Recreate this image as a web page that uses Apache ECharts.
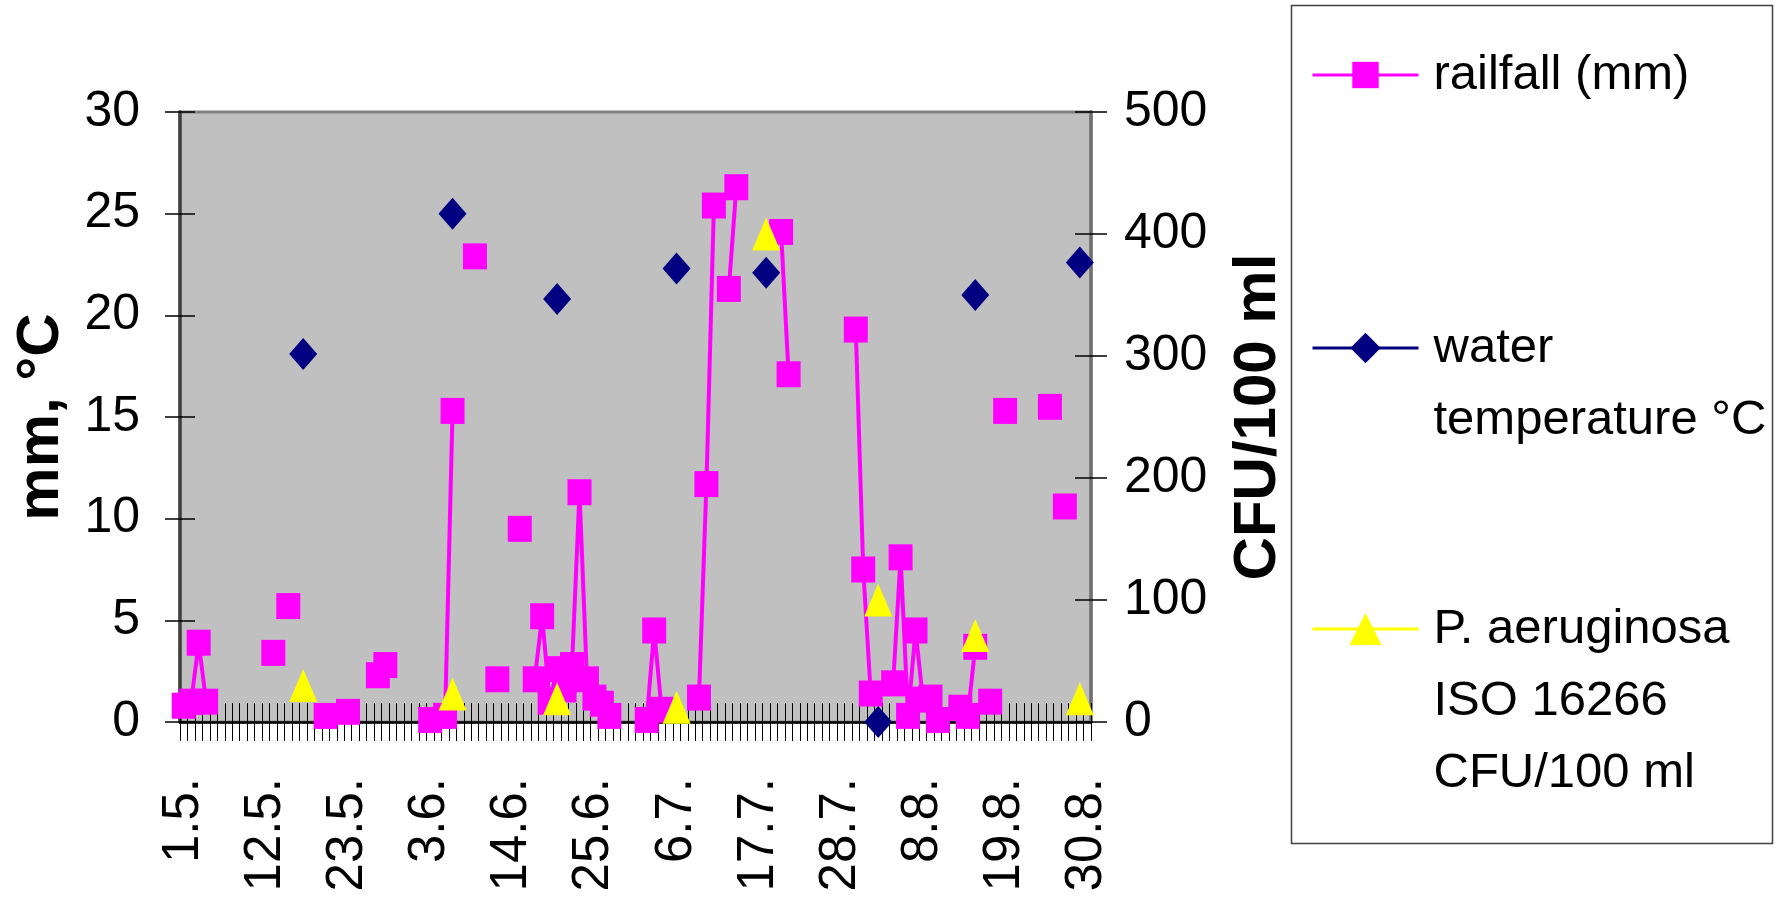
<!DOCTYPE html>
<html><head><meta charset="utf-8">
<script src="https://cdn.jsdelivr.net/npm/echarts@6.0.0/dist/echarts.min.js"></script>
<style>html,body{margin:0;padding:0;background:#fff}#c{width:1776px;height:900px}</style>
</head><body><div id="c"></div>
<script>
// Calendar for the category axis (1.5. ... 30.8.)
const monthLengths = [[5, 31], [6, 30], [7, 31], [8, 30]];
const categories = [];
monthLengths.forEach(([m, n]) => { for (let d = 1; d <= n; d++) categories.push(d + '.' + m + '.'); });

// Rainfall (mm)
const rainDates = ['1.5.','2.5.','3.5.','4.5.','13.5.','15.5.','20.5.','23.5.','27.5.','28.5.',
  '3.6.','5.6.','6.6.','9.6.','12.6.','15.6.','17.6.','18.6.','19.6.','20.6.','21.6.','22.6.','23.6.','24.6.','25.6.','26.6.','27.6.',
  '2.7.','3.7.','4.7.','9.7.','10.7.','11.7.','13.7.','14.7.','20.7.','21.7.','30.7.','31.7.',
  '1.8.','4.8.','5.8.','6.8.','7.8.','8.8.','9.8.','10.8.','13.8.','14.8.','15.8.','17.8.','19.8.','25.8.','27.8.'];
const rainMm = [0.8,1.0,3.9,1.0,3.4,5.7,0.3,0.5,2.3,2.8,
  0.1,0.3,15.3,22.9,2.1,9.5,2.1,5.2,1.0,2.6,1.6,2.8,11.3,2.1,1.2,0.9,0.3,
  0.1,4.5,0.6,1.2,11.7,25.4,21.3,26.3,24.1,17.1,19.3,7.5,
  1.4,1.9,8.1,0.3,4.5,1.1,1.2,0.1,0.7,0.3,3.7,1.0,15.3,15.5,10.6];

// Water temperature (°C)
const tempDates = ['17.5.','6.6.','20.6.','6.7.','18.7.','2.8.','15.8.','29.8.'];
const tempC = [18.1, 25.0, 20.8, 22.3, 22.1, 0, 21.0, 22.6];

// P. aeruginosa (CFU/100 ml)
const cfuDates = ['17.5.','6.6.','20.6.','6.7.','18.7.','2.8.','15.8.','29.8.'];
const cfuVals = [30, 23, 19, 12, 400, 100, 71, 19];

const leftTicks = { min: 0, max: 30, interval: 5 };
const rightTicks = { min: 0, max: 500, interval: 100 };

const seriesNames = ['railfall (mm)', 'water temperature °C', 'P. aeruginosa ISO 16266 CFU/100 ml'];
const legendLabels = {
  'railfall (mm)': 'railfall (mm)',
  'water temperature °C': '\nwater\ntemperature °C',
  'P. aeruginosa ISO 16266 CFU/100 ml': '\n\nP. aeruginosa\nISO 16266\nCFU/100 ml'
};

function fill(dates, vals) {
  const map = {};
  dates.forEach((d, i) => { map[d] = vals[i]; });
  return categories.map(c => (c in map ? map[c] : '-'));
}

const FONT = '"Liberation Sans", Arial, sans-serif';
const chart = echarts.init(document.getElementById('c'), null, { renderer: 'canvas' });

const legendBase = {
  orient: 'vertical', padding: 0, selectedMode: false,
  formatter: n => legendLabels[n],
  textStyle: { fontSize: 49, lineHeight: 72, color: '#000', fontFamily: FONT, padding: [0, 0, 0, 10] },
  lineStyle: { width: 3 }
};

const option = {
  animation: false,
  backgroundColor: '#ffffff',
  grid: { left: 180, top: 112, width: 911, height: 610, show: true, backgroundColor: '#C0C0C0',
          borderColor: '#808080', borderWidth: 3, outerBoundsMode: 'none', containLabel: false },
  xAxis: [
    { type: 'category', data: categories, boundaryGap: true, position: 'bottom',
      axisLine: { show: true, lineStyle: { color: '#000', width: 2.5 } },
      axisTick: { show: true, interval: 0, length: 19, lineStyle: { color: '#000', width: 1 } },
      axisLabel: { interval: 10, rotate: 90, margin: 56, fontSize: 51, color: '#000', fontFamily: FONT },
      splitLine: { show: false } },
    { type: 'category', data: categories, boundaryGap: true, position: 'bottom',
      axisLine: { show: false },
      axisTick: { show: true, inside: true, interval: 0, length: 19, lineStyle: { color: '#000', width: 1 } },
      axisLabel: { show: false }, splitLine: { show: false } }
  ],
  yAxis: [
    { type: 'value', ...leftTicks, position: 'left',
      name: 'mm, °C', nameLocation: 'middle', nameRotate: 90, nameGap: 109,
      nameTextStyle: { fontSize: 60, fontWeight: 'bold', fontFamily: FONT, color: '#000' },
      axisLine: { show: true, lineStyle: { color: '#404040', width: 3.5 } },
      axisTick: { show: true, length: 15, lineStyle: { color: '#000', width: 1.5 } },
      axisLabel: { margin: 40, fontSize: 50, color: '#000', fontFamily: FONT },
      splitLine: { show: false } },
    { type: 'value', ...rightTicks, position: 'right',
      name: 'CFU/100 ml', nameLocation: 'middle', nameRotate: 90, nameGap: 137,
      nameTextStyle: { fontSize: 60, fontWeight: 'bold', fontFamily: FONT, color: '#000' },
      axisLine: { show: true, lineStyle: { color: '#707070', width: 3.5 } },
      axisTick: { show: true, length: 16, lineStyle: { color: '#000', width: 1.5 } },
      axisLabel: { margin: 33, fontSize: 50, color: '#000', fontFamily: FONT },
      splitLine: { show: false } },
    { type: 'value', ...leftTicks, position: 'left',
      axisLine: { show: false }, axisTick: { show: true, inside: true, length: 15, lineStyle: { color: '#000', width: 1.5 } },
      axisLabel: { show: false }, splitLine: { show: false } },
    { type: 'value', ...rightTicks, position: 'right',
      axisLine: { show: false }, axisTick: { show: true, inside: true, length: 16, lineStyle: { color: '#000', width: 1.5 } },
      axisLabel: { show: false }, splitLine: { show: false } }
  ],
  legend: [
    Object.assign({}, legendBase, { data: [seriesNames[0]], left: 1311, top: 39, itemWidth: 106, itemHeight: 33 }),
    Object.assign({}, legendBase, { data: [seriesNames[1]], left: 1311, top: 240, itemWidth: 106, itemHeight: 38 }),
    Object.assign({}, legendBase, { data: [seriesNames[2]], left: 1311, top: 449, itemWidth: 106, itemHeight: 40 })
  ],
  graphic: [
    { type: 'rect', left: 1289, top: 3, shape: { width: 481, height: 838 },
      style: { fill: 'none', stroke: '#404040', lineWidth: 1.5 }, silent: true }
  ],
  series: [
    { name: seriesNames[0], type: 'line', xAxisIndex: 0, yAxisIndex: 0, data: fill(rainDates, rainMm),
      symbol: 'rect', symbolSize: [24, 26], showSymbol: true, showAllSymbol: true, connectNulls: false,
      lineStyle: { color: '#FF00FF', width: 4 }, itemStyle: { color: '#FF00FF' }, emphasis: { disabled: true } },
    { name: seriesNames[1], type: 'line', xAxisIndex: 0, yAxisIndex: 0, data: fill(tempDates, tempC),
      symbol: 'diamond', symbolSize: [28, 32], showSymbol: true, showAllSymbol: true, connectNulls: false,
      lineStyle: { color: '#000080', width: 3 }, itemStyle: { color: '#000080' }, emphasis: { disabled: true } },
    { name: seriesNames[2], type: 'line', xAxisIndex: 0, yAxisIndex: 1, data: fill(cfuDates, cfuVals),
      symbol: 'triangle', symbolSize: [28, 33], showSymbol: true, showAllSymbol: true, connectNulls: false,
      lineStyle: { color: '#FFFF00', width: 3 }, itemStyle: { color: '#FFFF00' }, emphasis: { disabled: true } }
  ]
};
chart.setOption(option);
</script></body></html>
